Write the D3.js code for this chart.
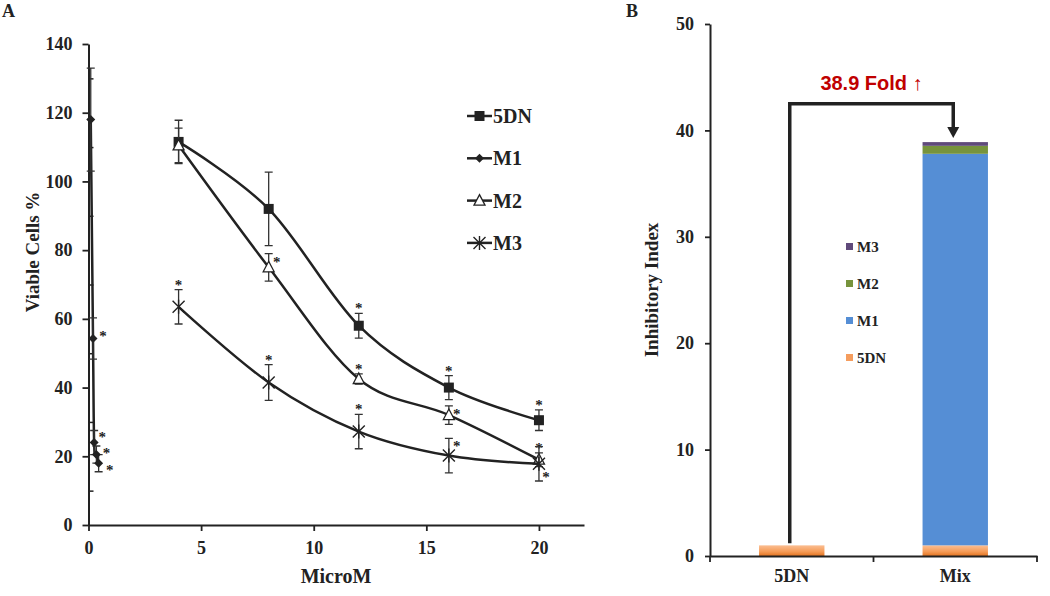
<!DOCTYPE html>
<html><head><meta charset="utf-8">
<script src="https://cdn.jsdelivr.net/npm/d3@7"></script>
<style>body{margin:0;background:#fff}svg{display:block}</style>
</head><body>
<svg id="c" width="1050" height="596"></svg>
<script>
// ---------- Panel A data ----------
const concStd = [4, 8, 12, 16, 20];
const concM1 = [0.1, 0.2, 0.25, 0.35, 0.45];
const v5DN = [111.5, 92, 58, 40, 30.5];
const e5DN = [6.3, 10.7, 3.6, 3.5, 3];
const vM1 = [118, 54.3, 24, 20.5, 18];
const eM1 = [15, 6, 3.5, 2.5, 2.5];
const vM2 = [110.5, 75, 42.5, 32, 19];
const eM2 = [5, 4, 1.5, 2.7, 2];
const vM3 = [63.5, 41.5, 27.2, 20.2, 17.8];
const eM3 = [5, 5.2, 5, 5, 5];
// significance asterisk placement: t = above error bar, r = right of point,
// ru / rd = right, shifted up / down, rt = right near error top, rb = right near error bottom
const sig5DN = [null, null, "t", "t", "t"];
const sigM1 = [null, "r", "ru", "r", "rd"];
const sigM2 = [null, "rt", "t", "rt", "t"];
const sigM3 = ["t", "t", "t", "rt", "rb"];
const yTicksA = [0, 20, 40, 60, 80, 100, 120, 140];
const xTicksA = [0, 5, 10, 15, 20];
const seriesNamesA = ["5DN", "M1", "M2", "M3"];

// ---------- Panel B data ----------
const groupsB = ["5DN", "Mix"];
const stackKeysB = ["5DN", "M1", "M2", "M3"];
const b5DN = [1, 1];
const bM1 = [0, 36.8];
const bM2 = [0, 0.75];
const bM3 = [0, 0.35];
const yTicksB = [0, 10, 20, 30, 40, 50];
const bracketLevel = 42.5;

const svg = d3.select("#c");
const serif = "'Liberation Serif','Times New Roman',serif";
const ink = "#222";

// ================= PANEL A =================
const xA = d3.scaleLinear().domain([0, 22]).range([88.5, 584]);
const yA = d3.scaleLinear().domain([0, 140]).range([525, 44]);
const gA = svg.append("g");

// minor ticks (inside)
gA.append("g").attr("transform", `translate(${xA(0)},0)`)
  .call(d3.axisLeft(yA).tickValues(d3.range(10, 140, 20)).tickSizeInner(-5).tickSizeOuter(0).tickFormat(""))
  .call(g => g.select(".domain").remove())
  .call(g => g.selectAll("line").attr("stroke", ink).attr("stroke-width", 1.5));

const axYA = gA.append("g").attr("transform", `translate(${xA(0)},0)`)
  .call(d3.axisLeft(yA).tickValues(yTicksA).tickSize(6).tickSizeOuter(0).tickPadding(10));
const axXA = gA.append("g").attr("transform", `translate(0,${yA(0)})`)
  .call(d3.axisBottom(xA).tickValues(xTicksA).tickSize(6).tickSizeOuter(0).tickPadding(10));
[axYA, axXA].forEach(a => {
  a.select(".domain").attr("stroke", ink).attr("stroke-width", 2);
  a.selectAll("line").attr("stroke", ink).attr("stroke-width", 1.8);
  a.selectAll("text").attr("font-family", serif).attr("font-weight", "bold").attr("font-size", 18).attr("fill", ink);
});

gA.append("text").attr("x", 336).attr("y", 583).attr("text-anchor", "middle")
  .attr("font-family", serif).attr("font-weight", "bold").attr("font-size", 20).attr("fill", ink).text("MicroM");
gA.append("text").attr("transform", "translate(39,252) rotate(-90)").attr("text-anchor", "middle")
  .attr("font-family", serif).attr("font-weight", "bold").attr("font-size", 19).attr("fill", ink).text("Viable Cells %");
svg.append("text").attr("x", 2).attr("y", 17).attr("font-family", serif).attr("font-weight", "bold")
  .attr("font-size", 18).attr("fill", ink).text("A");

const seriesA = [
  {name: "5DN", xs: concStd, v: v5DN, e: e5DN, sig: sig5DN, m: "square"},
  {name: "M1", xs: concM1, v: vM1, e: eM1, sig: sigM1, m: "diamond"},
  {name: "M2", xs: concStd, v: vM2, e: eM2, sig: sigM2, m: "triangle"},
  {name: "M3", xs: concStd, v: vM3, e: eM3, sig: sigM3, m: "star"}
];

function drawMarker(g, type, x, y) {
  if (type === "square") {
    g.append("rect").attr("x", x - 5).attr("y", y - 5).attr("width", 10).attr("height", 10).attr("fill", ink);
  } else if (type === "diamond") {
    g.append("path").attr("d", `M${x},${y-4.5}L${x+4.5},${y}L${x},${y+4.5}L${x-4.5},${y}Z`).attr("fill", ink);
  } else if (type === "triangle") {
    g.append("path").attr("d", `M${x},${y-6}L${x+5.5},${y+4.5}L${x-5.5},${y+4.5}Z`)
      .attr("fill", "#fff").attr("stroke", ink).attr("stroke-width", 1.3);
  } else if (type === "star") {
    g.append("path").attr("d", `M${x-6},${y-6}L${x+6},${y+6}M${x-6},${y+6}L${x+6},${y-6}M${x},${y-7}L${x},${y+7}`)
      .attr("stroke", ink).attr("stroke-width", 1.4).attr("fill", "none");
  }
}

const lineGen = d3.line().curve(d3.curveCatmullRom.alpha(0)).x(d => xA(d[0])).y(d => yA(d[1]));

seriesA.forEach(s => {
  const pts = s.xs.map((x, i) => [x, s.v[i]]);
  const g = gA.append("g");
  g.append("path").attr("d", lineGen(pts)).attr("fill", "none").attr("stroke", ink).attr("stroke-width", 2.5);
  // error bars
  pts.forEach((p, i) => {
    const x = xA(p[0]), y1 = yA(p[1] + s.e[i]), y2 = yA(p[1] - s.e[i]);
    g.append("path").attr("d", `M${x},${y1}L${x},${y2}M${x-4},${y1}L${x+4},${y1}M${x-4},${y2}L${x+4},${y2}`)
      .attr("stroke", "#333").attr("stroke-width", 1.3).attr("fill", "none");
  });
  pts.forEach(p => drawMarker(g, s.m, xA(p[0]), yA(p[1])));
  // asterisks
  pts.forEach((p, i) => {
    const code = s.sig[i];
    if (!code) return;
    const x = xA(p[0]), y = yA(p[1]);
    const top = yA(p[1] + s.e[i]), bot = yA(p[1] - s.e[i]);
    let cx, cy;
    if (code === "t") { cx = x; cy = top - 7; }
    else if (code === "r") { cx = x + 10; cy = y - 4; }
    else if (code === "ru") { cx = x + 8; cy = y - 8; }
    else if (code === "rd") { cx = x + 11; cy = y + 5; }
    else if (code === "rt") { cx = x + 8; cy = top + 6; }
    else { cx = x + 7; cy = bot - 6; }
    g.append("text").attr("x", cx).attr("y", cy + 7).attr("text-anchor", "middle")
      .attr("font-family", serif).attr("font-weight", "bold").attr("font-size", 15).attr("fill", ink).text("*");
  });
});

// legend A
const legA = gA.append("g");
const legMarkers = ["square", "diamond", "triangle", "star"];
seriesNamesA.forEach((n, i) => {
  const y = 116 + i * 42.3;
  legA.append("line").attr("x1", 467).attr("x2", 492).attr("y1", y).attr("y2", y).attr("stroke", ink).attr("stroke-width", 2.5);
  drawMarker(legA, legMarkers[i], 479.5, y);
  legA.append("text").attr("x", 493).attr("y", y + 7).attr("font-family", serif).attr("font-weight", "bold")
    .attr("font-size", 20).attr("fill", ink).text(n);
});

// ================= PANEL B =================
const xB = d3.scaleBand().domain(groupsB).range([710, 1037]);
const yB = d3.scaleLinear().domain([0, 50]).range([556, 24]);
const gB = svg.append("g");
const colorsB = {"5DN": "url(#orangeGrad)", "M1": "#558ED5", "M2": "#77933C", "M3": "#604A7B"};
const legendColorsB = {"5DN": "#F59D5E", "M1": "#558ED5", "M2": "#77933C", "M3": "#604A7B"};

const defs = svg.append("defs");
const grad = defs.append("linearGradient").attr("id", "orangeGrad").attr("x1", 0).attr("x2", 0).attr("y1", 0).attr("y2", 1);
grad.append("stop").attr("offset", "0%").attr("stop-color", "#FBBE92");
grad.append("stop").attr("offset", "60%").attr("stop-color", "#F59A55");
grad.append("stop").attr("offset", "100%").attr("stop-color", "#E27320");

const tableB = groupsB.map((g, i) => ({group: g, "5DN": b5DN[i], "M1": bM1[i], "M2": bM2[i], "M3": bM3[i]}));
const stackB = d3.stack().keys(stackKeysB)(tableB);
const barW = xB.bandwidth() * 0.4;
stackB.forEach(layer => {
  gB.append("g").selectAll("rect").data(layer).join("rect")
    .attr("x", d => xB(d.data.group) + (xB.bandwidth() - barW) / 2)
    .attr("width", barW)
    .attr("y", d => yB(d[1]))
    .attr("height", d => Math.max(0, yB(d[0]) - yB(d[1])))
    .attr("fill", colorsB[layer.key]);
});

const axYB = gB.append("g").attr("transform", `translate(${xB.range()[0]},0)`)
  .call(d3.axisLeft(yB).tickValues(yTicksB).tickSize(5).tickSizeOuter(0).tickPadding(11));
const axXB = gB.append("g").attr("transform", `translate(0,${yB(0)})`)
  .call(d3.axisBottom(xB).tickSize(0).tickSizeOuter(0).tickPadding(13));
// band-edge ticks
gB.append("g").selectAll("line").data([xB.range()[0], xB(groupsB[1]), xB.range()[1]]).join("line")
  .attr("x1", d => d).attr("x2", d => d).attr("y1", yB(0)).attr("y2", yB(0) + 6)
  .attr("stroke", ink).attr("stroke-width", 1.8);
[axYB, axXB].forEach(a => {
  a.select(".domain").attr("stroke", ink).attr("stroke-width", 2);
  a.selectAll("line").attr("stroke", ink).attr("stroke-width", 1.8);
  a.selectAll("text").attr("font-family", serif).attr("font-weight", "bold").attr("font-size", 18).attr("fill", ink);
});
axXB.selectAll("text").attr("dy", "0.71em");

gB.append("text").attr("transform", "translate(658,290) rotate(-90)").attr("text-anchor", "middle")
  .attr("font-family", serif).attr("font-weight", "bold").attr("font-size", 19).attr("fill", ink).text("Inhibitory Index");
svg.append("text").attr("x", 626).attr("y", 17).attr("font-family", serif).attr("font-weight", "bold")
  .attr("font-size", 18).attr("fill", ink).text("B");

// bracket
const total = groupsB.map((g, i) => b5DN[i] + bM1[i] + bM2[i] + bM3[i]);
const fold = total[1] / total[0];
const bx1 = xB("5DN") + xB.bandwidth() / 2 - 2, bx2 = xB("Mix") + xB.bandwidth() / 2 - 2;
const by0 = yB(total[0]) - 2, byT = yB(bracketLevel), tip = yB(total[1]) - 4;
gB.append("path").attr("d", `M${bx1},${by0}L${bx1},${byT}L${bx2},${byT}L${bx2},${tip - 9}`)
  .attr("fill", "none").attr("stroke", ink).attr("stroke-width", 3.5);
gB.append("path").attr("d", `M${bx2 - 6},${tip - 11}L${bx2 + 6},${tip - 11}L${bx2},${tip}Z`).attr("fill", ink);
gB.append("text").attr("x", (bx1 + bx2) / 2).attr("y", 90).attr("text-anchor", "middle")
  .attr("font-family", "'Liberation Sans',Arial,sans-serif").attr("font-weight", "bold").attr("font-size", 20)
  .attr("fill", "#C00000").text(`${fold.toFixed(1)} Fold ↑`);

// legend B
const legB = gB.append("g");
stackKeysB.slice().reverse().forEach((k, i) => {
  const y = 246.5 + i * 37;
  legB.append("rect").attr("x", 846).attr("y", y - 3.5).attr("width", 7).attr("height", 7).attr("fill", legendColorsB[k]);
  legB.append("text").attr("x", 857).attr("y", y + 5).attr("font-family", serif).attr("font-weight", "bold")
    .attr("font-size", 15).attr("fill", ink).text(k);
});
</script>
</body></html>
